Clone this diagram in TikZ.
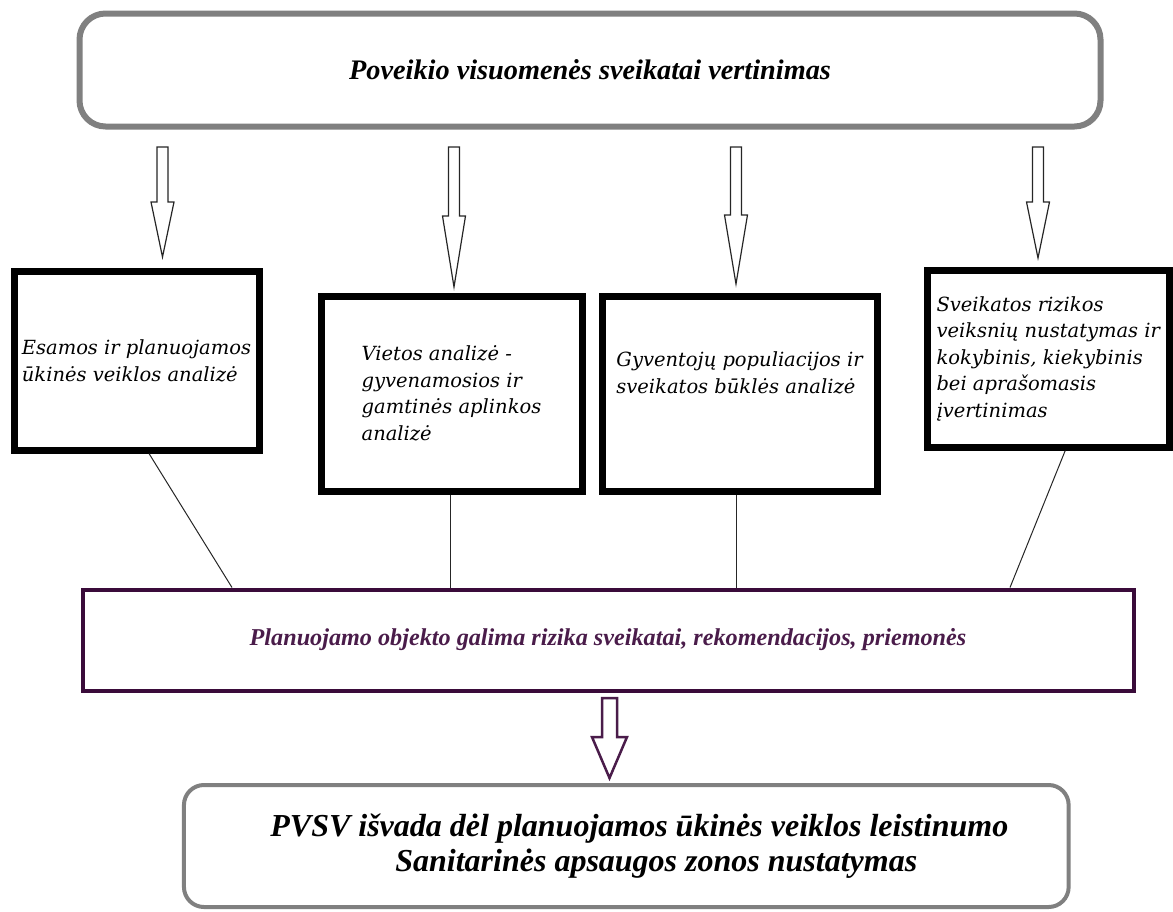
\documentclass[tikz,border=0pt]{standalone}
\usepackage{fontspec}
\setmainfont{Liberation Serif}
\newfontfamily\boxfont{DejaVu Serif}
\definecolor{frame}{HTML}{808080}
\definecolor{plum}{HTML}{3A0B3A}
\definecolor{plumtext}{HTML}{4A1C4A}
\begin{document}
\begin{tikzpicture}
    [x=1pt, y=-1pt,
    hdr/.style={draw=frame, line width=6pt, rounded corners=26pt, inner sep=0pt},
    box/.style={draw=black, line width=7pt, inner sep=0pt, align=left,
        font=\boxfont\itshape\fontsize{19.5pt}{26.5pt}\selectfont},
    risk/.style={draw=plum, line width=4pt, inner sep=0pt},
    link/.style={line width=1pt, draw=black!85},
    hollow/.style={draw=black!85, line width=1.2pt, fill=white}]
    \useasboundingbox (0,0) rectangle (1173,911);
    \node[hdr, minimum width=1021pt, minimum height=113pt,
        font=\fontsize{28.3pt}{32pt}\selectfont\bfseries\itshape] (pvsv) at (590,70)
        {Poveikio visuomenės sveikatai vertinimas};
    \node[box, minimum width=245pt, minimum height=178.5pt] (esamos) at (136.5,360.75)
        {Esamos ir planuojamos\\ūkinės veiklos analizė};
    \node[box, minimum width=261pt, minimum height=195pt] (vietos) at (451.5,393.5)
        {Vietos analizė -\\gyvenamosios ir\\gamtinės aplinkos\\analizė\hspace*{10pt}};
    \node[box, minimum width=275pt, minimum height=195pt] (gyv) at (739.5,393.5)
        {Gyventojų populiacijos ir\\sveikatos būklės analizė\\[15pt]\mbox{}};
    \node[box, minimum width=242.5pt, minimum height=177pt] (veiksn) at (1048.25,358.5)
        {Sveikatos rizikos\\veiksnių nustatymas ir\\kokybinis, kiekybinis\\bei aprašomasis\\įvertinimas};
    \node[risk, minimum width=1051pt, minimum height=101pt, text=plumtext,
        font=\fontsize{24.2pt}{28pt}\selectfont\bfseries\itshape] (rizika) at (608,640)
        {Planuojamo objekto galima rizika sveikatai, rekomendacijos, priemonės};
    \node[hdr, line width=4pt, rounded corners=20pt, minimum width=884.7pt,
        minimum height=122pt, align=left,
        font=\fontsize{32pt}{35pt}\selectfont\bfseries\itshape] (isvada) at (626.3,846)
        {\hspace*{26pt}PVSV išvada dėl planuojamos ūkinės veiklos leistinumo\\
         \hspace*{151pt}Sanitarinės apsaugos zonos nustatymas};
    % block arrows under the header
    \foreach \dx/\lh/\hh in {-433/55/55, -141.5/69/71, 140.5/68/69, 442.5/55/56}
        \draw[hollow] ([shift={(\dx,17.5)}]pvsv.south) -- ++(11,0) -- ++(0,\lh)
            -- ++(6,0) -- ++(-11.5,\hh) -- ++(-11.5,-\hh) -- ++(6,0) -- cycle;
    \draw[hollow, draw=plumtext, line width=2.5pt] ([shift={(-6,5.5)}]rizika.south)
        -- ++(15,0) -- ++(0,39) -- ++(10,0) -- ++(-17.5,41) -- ++(-17.5,-41)
        -- ++(10,0) -- cycle;
    % links to the result box
    \draw[link] ([shift={(12.5,0)}]esamos.south) -- ([shift={(-376,0)}]rizika.north);
    \draw[link] ([shift={(-1.5,0)}]vietos.south) -- ([shift={(-158,0)}]rizika.north);
    \draw[link] ([shift={(-3.5,0)}]gyv.south) -- ([shift={(128,0)}]rizika.north);
    \draw[link] ([shift={(17,0)}]veiksn.south) -- ([shift={(402,0)}]rizika.north);
\end{tikzpicture}
\end{document}
